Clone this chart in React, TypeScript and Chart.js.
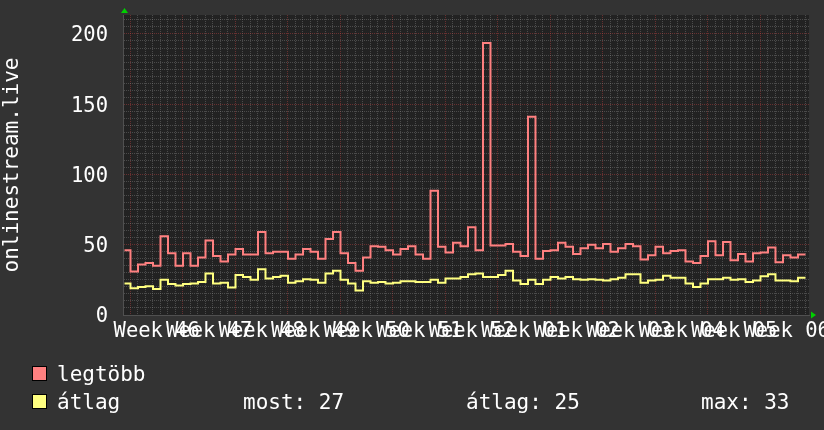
import React, { useEffect, useRef } from "react";
import { Chart, registerables } from "chart.js";

Chart.register(...registerables);

// ---- data ----
const weekLabels = ["46", "47", "48", "49", "50", "51", "52", "01", "02", "03", "04", "05", "06"];

// daily values: first entry is the partial day before the first week line, then one value per day
const maxValues = [
  46,
  31, 36, 37, 35, 56, 44, 35, 44, 35, 41,
  53, 42, 38, 43, 47, 43, 43, 59, 44, 45,
  45, 40, 43, 47, 45, 40, 54, 59, 44, 37,
  31.5, 41, 49, 48.5, 46, 43, 47, 49, 43, 40,
  88.5, 48.5, 44.5, 51.5, 49, 62.5, 46, 193.5, 49.5, 49.5,
  50.5, 45, 42, 141, 40, 45.5, 46, 51.5, 48.5, 43.5,
  47.5, 50, 47.5, 50.5, 45, 47.5, 50.5, 49, 39.5, 42.5,
  48.5, 44, 45.5, 46, 38, 37, 42, 52.5, 42.5, 52,
  39, 43.5, 38, 44, 44.5, 48, 37.5, 42.5, 41, 43,
];

const avgValues = [
  22.5,
  19, 20, 20.5, 18.5, 25, 22, 21, 22, 22.5, 23.5,
  29.5, 22.5, 23, 19.5, 28.5, 27, 25, 32.5, 26, 27,
  28, 23, 24, 25.5, 25, 23, 29.5, 31.5, 25, 22.5,
  17.5, 24, 23, 23.5, 22.5, 23, 24, 24, 23.5, 23.5,
  25, 23, 26, 26, 27, 29, 29.5, 27, 27, 28.5,
  31.5, 24.5, 22, 25, 22, 25, 27, 26, 27, 25.5,
  25, 25.5, 25, 24.5, 25.5, 26.5, 29, 29, 23, 24.5,
  25, 28, 26.5, 26.5, 22.5, 20, 22.5, 25.5, 25.5, 26.5,
  25, 25.5, 23.5, 24.5, 27.5, 29, 24.5, 24.5, 24, 26.5,
];

const seriesNames = ["legtöbb", "átlag"];
const statTexts = ["most: 27", "átlag: 25", "max: 33"];
const axisTitle = "onlinestream.live";

// ---- scale settings ----
const X_MIN = -1;
const X_MAX = 90.47;
const FIRST_START = -0.8;
const Y_MAX = 213.5;

const RED = "#ff8080";
const YELLOW = "#ffff80";
const MINOR = "rgba(150,150,150,0.36)";
const MAJOR = "rgba(200,70,70,0.42)";
const AXIS = "#505050";
const FONT = "'DejaVu Sans Mono', monospace";

function toSteps(vals: number[]) {
  const pts = [{ x: FIRST_START, y: vals[0] }];
  for (let k = 1; k < vals.length; k++) pts.push({ x: k - 1, y: vals[k] });
  pts.push({ x: vals.length - 1, y: vals[vals.length - 1] });
  return pts;
}

const bgPlugin = {
  id: "bgPlugin",
  beforeDraw(chart: any) {
    const { ctx, chartArea } = chart;
    ctx.save();
    ctx.fillStyle = "#333333";
    ctx.fillRect(0, 0, chart.width, chart.height);
    ctx.fillStyle = "#222222";
    ctx.fillRect(chartArea.left, chartArea.top, chartArea.right - chartArea.left, chartArea.bottom - chartArea.top);
    ctx.restore();
  },
  afterDraw(chart: any) {
    const { ctx, chartArea } = chart;
    ctx.save();
    // axis arrows
    ctx.fillStyle = "#00d000";
    const ax = chartArea.left + 1.5;
    ctx.beginPath();
    ctx.moveTo(ax, chartArea.top - 7);
    ctx.lineTo(ax - 3.5, chartArea.top - 2);
    ctx.lineTo(ax + 3.5, chartArea.top - 2);
    ctx.closePath();
    ctx.fill();
    const ay = chartArea.bottom;
    ctx.beginPath();
    ctx.moveTo(chartArea.right + 7, ay);
    ctx.lineTo(chartArea.right + 2, ay - 3.5);
    ctx.lineTo(chartArea.right + 2, ay + 3.5);
    ctx.closePath();
    ctx.fill();

    // legend
    const ds = chart.data.datasets;
    ctx.font = "21px " + FONT;
    ctx.textBaseline = "alphabetic";
    const rows = [366, 394];
    ds.forEach((d: any, i: number) => {
      const top = rows[i];
      ctx.fillStyle = d.borderColor;
      ctx.fillRect(32, top, 15, 15);
      ctx.strokeStyle = "#000000";
      ctx.lineWidth = 1;
      ctx.strokeRect(32.5, top + 0.5, 14, 14);
      ctx.fillStyle = "#ffffff";
      ctx.fillText(d.label, 57, top + 15);
    });
    const statX = [243, 466, 701];
    statTexts.forEach((t, i) => {
      ctx.fillText(t, statX[i], rows[1] + 15);
    });
    ctx.restore();
  },
};

export default function App() {
  const ref = useRef<HTMLCanvasElement>(null);
  useEffect(() => {
    if (!ref.current) return;
    const chart = new Chart(ref.current, {
      type: "line",
      data: {
        datasets: [
          {
            label: seriesNames[0],
            data: toSteps(maxValues),
            borderColor: RED,
            borderWidth: 2,
            pointRadius: 0,
            stepped: true,
            fill: false,
          },
          {
            label: seriesNames[1],
            data: toSteps(avgValues),
            borderColor: YELLOW,
            borderWidth: 2,
            pointRadius: 0,
            stepped: true,
            fill: false,
          },
        ],
      },
      options: {
        animation: false,
        responsive: false,
        devicePixelRatio: 1,
        layout: { padding: { left: 0, top: 15, right: 15, bottom: 80 } },
        plugins: { legend: { display: false }, tooltip: { enabled: false } },
        scales: {
          x: {
            type: "linear",
            min: X_MIN,
            max: X_MAX,
            afterBuildTicks: (scale: any) => {
              const t = [];
              for (let v = -1; v <= 90.01; v += 0.5) t.push({ value: v });
              scale.ticks = t;
            },
            afterFit: (scale: any) => {
              scale.height = 35;
              scale.paddingLeft = 0;
              scale.paddingRight = 0;
            },
            ticks: {
              autoSkip: false,
              maxRotation: 0,
              minRotation: 0,
              padding: 4,
              color: "#ffffff",
              font: { family: FONT, size: 20.5 },
              callback: (v: any) => {
                const w = (Number(v) - 3.5) / 7;
                if (Number.isInteger(w) && w >= 0 && w < weekLabels.length) return "Week " + weekLabels[w];
                return "";
              },
            },
            grid: {
              drawTicks: false,
              lineWidth: 1,
              color: (ctx: any) => {
                const v = ctx.tick ? ctx.tick.value : null;
                if (v == null || !Number.isInteger(v)) return "rgba(0,0,0,0)";
                return v % 7 === 0 ? MAJOR : MINOR;
              },
            },
            border: { display: true, color: AXIS, dash: [1, 1] },
          },
          y: {
            type: "linear",
            min: 0,
            max: Y_MAX,
            afterBuildTicks: (scale: any) => {
              const t = [];
              for (let v = 0; v <= Y_MAX; v += 5) t.push({ value: v });
              scale.ticks = t;
            },
            afterFit: (scale: any) => {
              scale.width = 123;
              scale.paddingTop = 0;
              scale.paddingBottom = 0;
            },
            ticks: {
              autoSkip: false,
              padding: 15,
              labelOffset: 2,
              color: "#ffffff",
              font: { family: FONT, size: 20.5 },
              callback: (v: any) => (Number(v) % 50 === 0 ? String(v) : ""),
            },
            grid: {
              drawTicks: false,
              lineWidth: 1,
              color: (ctx: any) => {
                const v = ctx.tick ? ctx.tick.value : 0;
                return v % 50 === 0 ? MAJOR : MINOR;
              },
            },
            border: { display: true, color: AXIS, dash: [1, 1] },
            title: {
              display: true,
              text: axisTitle,
              color: "#ffffff",
              font: { family: FONT, size: 21 },
              padding: 0,
            },
          },
        },
      },
      plugins: [bgPlugin],
    });
    return () => chart.destroy();
  }, []);
  return (
    <div style={{ position: "fixed", left: 0, top: 0, width: 824, height: 430, background: "#333333" }}>
      <canvas ref={ref} width={824} height={430} style={{ display: "block", width: 824, height: 430 }} />
    </div>
  );
}
